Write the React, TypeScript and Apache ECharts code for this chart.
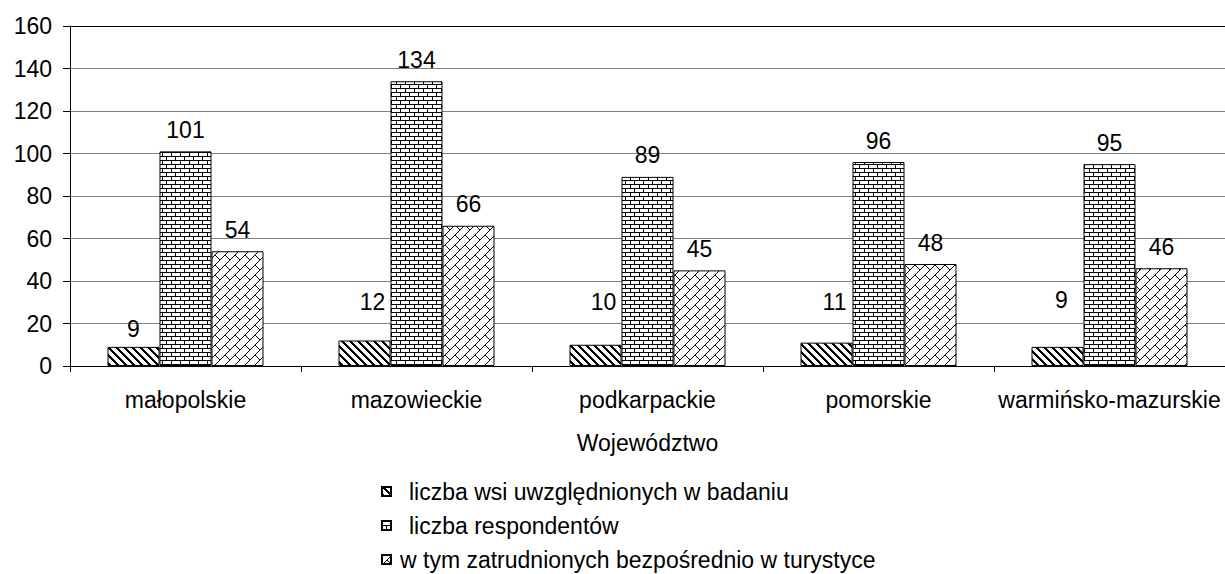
import { useEffect, useRef } from 'react';
import * as echarts from 'echarts';

const categories = ['małopolskie', 'mazowieckie', 'podkarpackie', 'pomorskie', 'warmińsko-mazurskie'];
const villages = [9, 12, 10, 11, 9];
const respondents = [101, 134, 89, 96, 95];
const employed = [54, 66, 45, 48, 46];
const seriesNames = [
  'liczba wsi uwzględnionych w badaniu',
  'liczba respondentów',
  'w tym zatrudnionych bezpośrednio w turystyce',
];
const axisName = 'Województwo';
const yMin = 0;
const yMax = 160;
const yInterval = 20;

const FONT = '"Liberation Sans", Arial, sans-serif';
const FS = 23;

function makeTile(w: number, h: number, on: (x: number, y: number) => boolean) {
  const c = document.createElement('canvas');
  c.width = w;
  c.height = h;
  const ctx = c.getContext('2d')!;
  ctx.fillStyle = '#ffffff';
  ctx.fillRect(0, 0, w, h);
  ctx.fillStyle = '#000000';
  for (let y = 0; y < h; y++) {
    for (let x = 0; x < w; x++) {
      if (on(x, y)) ctx.fillRect(x, y, 1, 1);
    }
  }
  return { image: c, repeat: 'repeat', imageWidth: w, imageHeight: h } as any;
}

export default function App() {
  const ref = useRef<HTMLDivElement>(null);
  useEffect(() => {
    document.body.style.margin = '0';
    const chart = echarts.init(ref.current!, null, { renderer: 'svg' });

    const stripes = makeTile(8, 8, (x, y) => (((x - y) % 8) + 8) % 8 < 3);
    const bricks = makeTile(18, 8, (x, y) => {
      if (y === 0 || y === 4) return true;
      if (y < 4) return x === 0 || x === 9;
      return x === 4 || x === 13;
    });
    const S = 10;
    const diagBricks = makeTile(S, S, (x, y) => x + y === S - 1 || (x === y && y >= S / 2));
    const fills = [stripes, bricks, diagBricks];
    const dataSets = [villages, respondents, employed];

    // manual label nudges seen in the reference (first series only)
    const nudges: number[][][] = [
      [[0, 4], [8, -17], [8, -21], [8, -19], [4, -25]],
      [],
      [],
    ];

    const gridColors = ['#000000', '#808080', '#808080', '#808080', '#808080', '#808080', '#808080', '#808080', '#000000'];

    chart.setOption({
      animation: false,
      backgroundColor: '#ffffff',
      textStyle: { fontFamily: FONT },
      grid: { left: 70, top: 26, width: 1159, height: 340, containLabel: false },
      xAxis: {
        type: 'category',
        data: categories,
        name: axisName,
        nameLocation: 'middle',
        nameGap: 65,
        nameTextStyle: { fontSize: FS, color: '#000', fontFamily: FONT },
        axisLine: { show: true, lineStyle: { color: '#000', width: 1 } },
        axisTick: { show: true, length: 6, lineStyle: { color: '#000' } },
        axisLabel: { fontSize: FS, color: '#000', margin: 22, fontFamily: FONT, interval: 0 },
        splitLine: { show: false },
      },
      yAxis: {
        type: 'value',
        min: yMin,
        max: yMax,
        interval: yInterval,
        axisLine: { show: true, lineStyle: { color: '#000', width: 1 } },
        axisTick: { show: true, length: 7, lineStyle: { color: '#000' } },
        axisLabel: { fontSize: FS, color: '#000', margin: 18, fontFamily: FONT },
        splitLine: { show: true, lineStyle: { color: gridColors, width: 1 } },
      },
      legend: {
        orient: 'vertical',
        left: 381,
        top: 480,
        padding: 0,
        itemWidth: 9,
        itemHeight: 9,
        itemGap: 11,
        icon: 'rect',
        textStyle: { fontSize: FS, color: '#000', fontFamily: FONT, lineHeight: 23 },
        data: [
          { name: seriesNames[0], textStyle: { padding: [0, 0, 0, 13] } },
          { name: seriesNames[1], textStyle: { padding: [0, 0, 0, 13] } },
          { name: seriesNames[2], textStyle: { padding: [0, 0, 0, 4] } },
        ],
      },
      series: seriesNames.map((name, i) => ({
        type: 'bar',
        name,
        data: dataSets[i].map((v, j) =>
          nudges[i][j] ? { value: v, label: { offset: nudges[i][j] } } : v
        ),
        barWidth: 52,
        barGap: '0%',
        itemStyle: { color: fills[i], borderColor: '#000', borderWidth: 1 },
        label: {
          show: true,
          position: 'top',
          distance: 10,
          fontSize: FS,
          color: '#000',
          fontFamily: FONT,
        },
      })),
    });
    return () => chart.dispose();
  }, []);
  return <div ref={ref} style={{ position: 'fixed', left: 0, top: 0, width: 1225, height: 574 }} />;
}
